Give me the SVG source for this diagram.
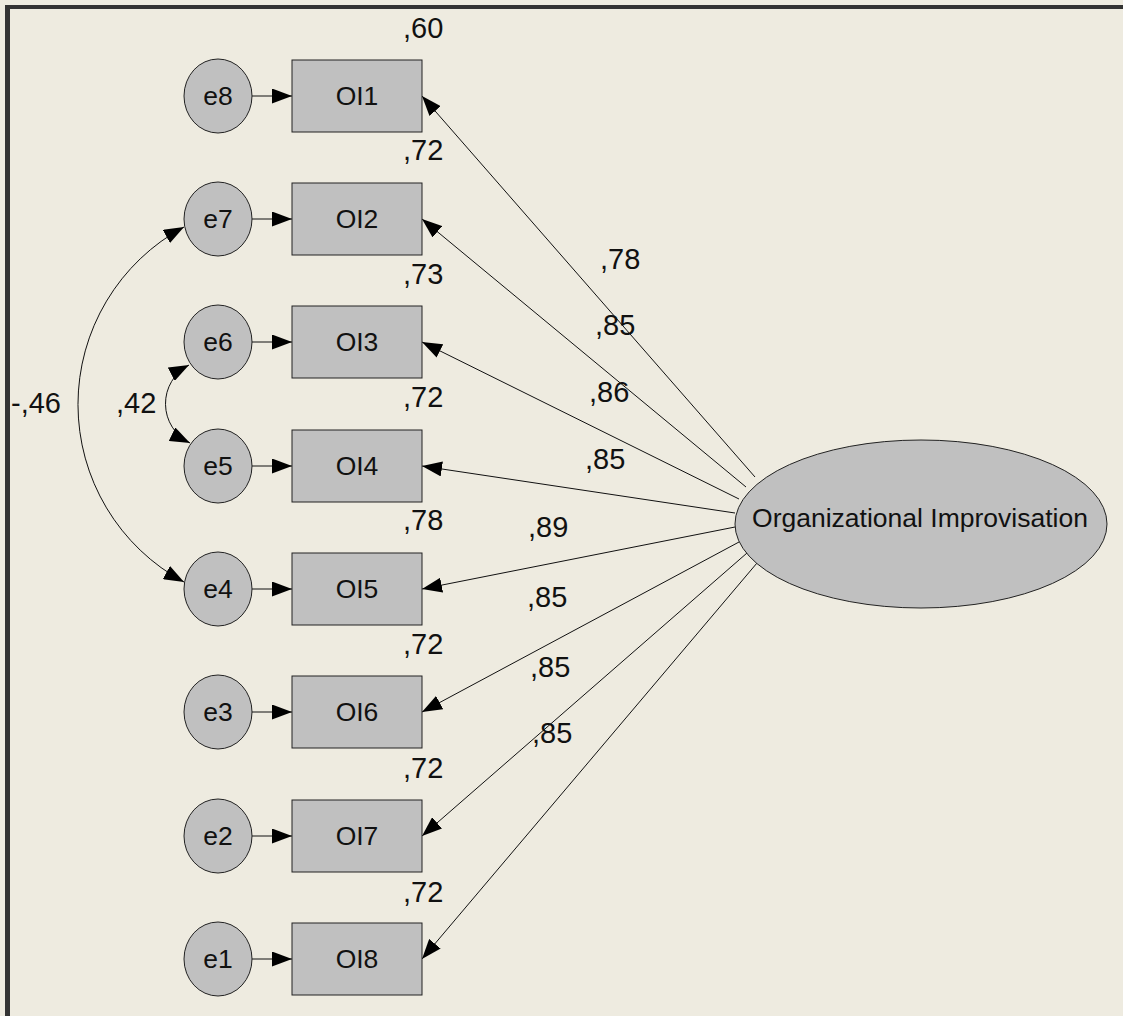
<svg xmlns="http://www.w3.org/2000/svg" width="1123" height="1016" viewBox="0 0 1123 1016">
<defs>
<marker id="ah" markerUnits="userSpaceOnUse" markerWidth="20" markerHeight="15" refX="20" refY="7.5" orient="auto-start-reverse" viewBox="0 0 20 15">
<path d="M0,0 L20,7.5 L0,15 z" fill="#000"/>
</marker>
</defs>
<style>
.bg{fill:#EEEBE0}
.bar{fill:#333333}
.err{fill:#C0C0C0;stroke:#222;stroke-width:1}
.obs{fill:#C0C0C0;stroke:#222;stroke-width:1}
.lat{fill:#C0C0C0;stroke:#222;stroke-width:1}
.nt{font-family:"Liberation Sans",Arial,sans-serif;font-size:26.5px;fill:#111;text-anchor:middle}
.lb{font-family:"Liberation Sans",Arial,sans-serif;font-size:29px;fill:#111}
.cn{fill:none;stroke:#111;stroke-width:1;marker-end:url(#ah)}
.cv{fill:none;stroke:#111;stroke-width:1;marker-start:url(#ah);marker-end:url(#ah)}
</style>
<rect class="bg" x="0" y="0" width="1123" height="1016"/>
<rect class="bar" x="5" y="5" width="1118" height="4"/>
<rect class="bar" x="5" y="5" width="5" height="1011"/>

<g id="connectors">
<line class="cn" x1="252" y1="96" x2="292" y2="96"/>
<line class="cn" x1="252" y1="219" x2="292" y2="219"/>
<line class="cn" x1="252" y1="342" x2="292" y2="342"/>
<line class="cn" x1="252" y1="466" x2="292" y2="466"/>
<line class="cn" x1="252" y1="589" x2="292" y2="589"/>
<line class="cn" x1="252" y1="712" x2="292" y2="712"/>
<line class="cn" x1="252" y1="836" x2="292" y2="836"/>
<line class="cn" x1="252" y1="959" x2="292" y2="959"/>
<line class="cn" x1="755" y1="477" x2="422" y2="96"/>
<line class="cn" x1="746" y1="487" x2="422" y2="219"/>
<line class="cn" x1="739" y1="499" x2="422" y2="342"/>
<line class="cn" x1="735" y1="513" x2="422" y2="466"/>
<line class="cn" x1="735" y1="527" x2="422" y2="589"/>
<line class="cn" x1="739" y1="542" x2="422" y2="712"/>
<line class="cn" x1="747" y1="553" x2="422" y2="836"/>
<line class="cn" x1="757" y1="563" x2="422" y2="959"/>
<path class="cv" d="M184,227 A201.6,201.6 0 0 0 184,582"/>
<path class="cv" d="M189,365 A43.7,43.7 0 0 0 190,443"/>
</g>

<g id="e8"><ellipse class="err" cx="218" cy="96" rx="34" ry="37"/><text class="nt" x="218" y="105">e8</text></g>
<g id="e7"><ellipse class="err" cx="218" cy="219" rx="34" ry="37"/><text class="nt" x="218" y="228">e7</text></g>
<g id="e6"><ellipse class="err" cx="218" cy="342" rx="34" ry="37"/><text class="nt" x="218" y="351">e6</text></g>
<g id="e5"><ellipse class="err" cx="218" cy="466" rx="34" ry="37"/><text class="nt" x="218" y="475">e5</text></g>
<g id="e4"><ellipse class="err" cx="218" cy="589" rx="34" ry="37"/><text class="nt" x="218" y="598">e4</text></g>
<g id="e3"><ellipse class="err" cx="218" cy="712" rx="34" ry="37"/><text class="nt" x="218" y="721">e3</text></g>
<g id="e2"><ellipse class="err" cx="218" cy="836" rx="34" ry="37"/><text class="nt" x="218" y="845">e2</text></g>
<g id="e1"><ellipse class="err" cx="218" cy="959" rx="34" ry="37"/><text class="nt" x="218" y="968">e1</text></g>

<g id="OI1"><rect class="obs" x="292" y="60" width="130" height="72"/><text class="nt" x="357" y="105">OI1</text></g>
<g id="OI2"><rect class="obs" x="292" y="183" width="130" height="72"/><text class="nt" x="357" y="228">OI2</text></g>
<g id="OI3"><rect class="obs" x="292" y="306" width="130" height="72"/><text class="nt" x="357" y="351">OI3</text></g>
<g id="OI4"><rect class="obs" x="292" y="430" width="130" height="72"/><text class="nt" x="357" y="475">OI4</text></g>
<g id="OI5"><rect class="obs" x="292" y="553" width="130" height="72"/><text class="nt" x="357" y="598">OI5</text></g>
<g id="OI6"><rect class="obs" x="292" y="676" width="130" height="72"/><text class="nt" x="357" y="721">OI6</text></g>
<g id="OI7"><rect class="obs" x="292" y="800" width="130" height="72"/><text class="nt" x="357" y="845">OI7</text></g>
<g id="OI8"><rect class="obs" x="292" y="923" width="130" height="72"/><text class="nt" x="357" y="968">OI8</text></g>

<g id="OrgImp"><ellipse class="lat" cx="921" cy="524" rx="186" ry="84"/><text class="nt" x="920" y="527">Organizational Improvisation</text></g>

<g id="labels">
<text class="lb" x="403" y="38">,60</text>
<text class="lb" x="403" y="160">,72</text>
<text class="lb" x="403" y="284">,73</text>
<text class="lb" x="403" y="407">,72</text>
<text class="lb" x="403" y="530">,78</text>
<text class="lb" x="403" y="654">,72</text>
<text class="lb" x="403" y="778">,72</text>
<text class="lb" x="403" y="902">,72</text>
<text class="lb" x="600" y="269">,78</text>
<text class="lb" x="595" y="335">,85</text>
<text class="lb" x="589" y="402">,86</text>
<text class="lb" x="585" y="469">,85</text>
<text class="lb" x="528" y="537">,89</text>
<text class="lb" x="527" y="607">,85</text>
<text class="lb" x="530" y="677">,85</text>
<text class="lb" x="532" y="743">,85</text>
<text class="lb" x="11" y="413">-,46</text>
<text class="lb" x="116" y="413">,42</text>
</g>
</svg>
